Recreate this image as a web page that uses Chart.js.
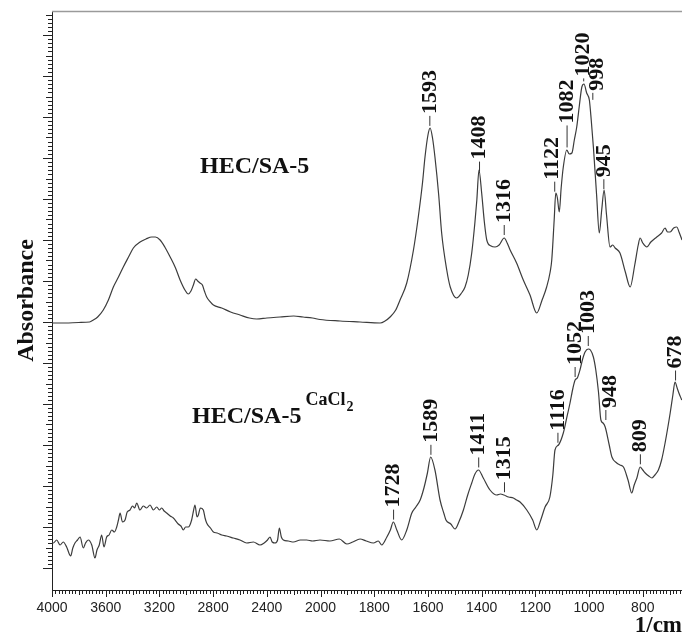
<!DOCTYPE html>
<html><head><meta charset="utf-8">
<script src="https://cdn.jsdelivr.net/npm/chart.js@4.4.1/dist/chart.umd.min.js"></script>
<style>html,body{margin:0;padding:0;background:#fff;}canvas{display:block;}</style>
</head><body>
<canvas id="c" width="682" height="635"></canvas>
<script>
// ---------------- data ----------------
const xTickLabels = [4000,3600,3200,2800,2400,2000,1800,1600,1400,1200,1000,800];

const wnHEC = [4000,3900,3800,3720,3692,3660,3618,3580,3543,3505,3469,3430,3394,3344,3300,3257,3230,3195,3160,3120,3080,3046,3010,2985,2965,2947,2930,2915,2898,2880,2865,2848,2820,2798,2736,2670,2600,2530,2475,2400,2302,2200,2130,2060,2004,1927,1853,1778,1760,1741,1720,1704,1679,1654,1636,1620,1611,1600,1592,1583,1574,1560,1549,1530,1517,1493,1475,1462,1450,1437,1425,1418,1410,1400,1390,1381,1365,1350,1335,1316,1305,1294,1270,1245,1220,1195,1175,1158,1145,1139,1130,1124,1118,1111,1104,1096,1083,1074,1064,1055,1046,1036,1027,1019,1009,999,992,984,972,962,953,944,935,922,912,903,885,865,847,830,817,810,800,785,770,748,730,717,708,698,685,673,665,654];
const absHEC = [2.67,2.67,2.675,2.68,2.70,2.73,2.80,2.90,3.03,3.13,3.23,3.33,3.42,3.48,3.51,3.53,3.53,3.50,3.43,3.33,3.22,3.10,3.00,2.96,2.99,3.05,3.11,3.09,3.07,3.05,2.99,2.93,2.88,2.85,2.82,2.78,2.75,2.72,2.71,2.72,2.73,2.74,2.73,2.72,2.705,2.69,2.68,2.67,2.69,2.73,2.80,2.90,3.07,3.40,3.73,4.08,4.33,4.55,4.62,4.52,4.33,3.95,3.57,3.20,3.03,2.92,2.97,3.03,3.15,3.37,3.68,3.90,4.20,3.97,3.68,3.50,3.44,3.43,3.45,3.52,3.47,3.40,3.27,3.10,2.95,2.77,2.90,3.03,3.18,3.30,3.70,3.97,3.92,3.78,4.02,4.23,4.40,4.36,4.37,4.50,4.63,4.85,5.03,5.06,4.97,4.90,4.70,4.43,3.95,3.57,3.80,4.00,3.75,3.43,3.45,3.42,3.37,3.18,3.03,3.25,3.45,3.52,3.47,3.43,3.48,3.53,3.57,3.62,3.58,3.58,3.62,3.63,3.58,3.50];

const wnCaCl2 = [4000,3990,3965,3940,3916,3891,3861,3845,3829,3810,3791,3767,3750,3730,3704,3680,3665,3648,3630,3613,3593,3575,3555,3535,3518,3505,3493,3475,3456,3440,3419,3400,3385,3369,3345,3320,3295,3270,3245,3220,3200,3183,3165,3146,3120,3096,3060,3040,3022,3005,2985,2960,2948,2935,2920,2910,2895,2873,2860,2848,2820,2798,2770,2736,2700,2650,2600,2550,2500,2451,2420,2395,2376,2360,2339,2320,2307,2292,2277,2240,2202,2150,2103,2060,2004,1965,1930,1902,1880,1853,1830,1803,1785,1772,1753,1740,1729,1716,1698,1679,1660,1645,1629,1615,1602,1590,1574,1555,1540,1533,1515,1499,1485,1468,1452,1437,1425,1412,1394,1369,1344,1330,1317,1300,1282,1270,1257,1232,1210,1195,1180,1164,1146,1135,1127,1114,1096,1085,1071,1060,1052,1044,1034,1025,1015,1003,995,984,975,965,956,948,940,925,915,897,885,872,855,841,832,822,810,800,791,778,766,755,742,730,717,698,688,680,672,667,655];
const absCaCl2 = [0.47,0.47,0.50,0.45,0.48,0.43,0.34,0.42,0.47,0.50,0.53,0.42,0.47,0.50,0.45,0.32,0.40,0.45,0.55,0.43,0.53,0.55,0.60,0.58,0.63,0.70,0.77,0.68,0.70,0.78,0.80,0.84,0.82,0.87,0.80,0.84,0.82,0.85,0.80,0.83,0.80,0.82,0.79,0.77,0.74,0.72,0.66,0.64,0.60,0.63,0.63,0.70,0.78,0.85,0.73,0.75,0.82,0.80,0.72,0.67,0.62,0.58,0.57,0.55,0.54,0.52,0.50,0.47,0.48,0.45,0.47,0.50,0.53,0.48,0.47,0.50,0.62,0.53,0.50,0.49,0.48,0.50,0.50,0.49,0.50,0.49,0.51,0.46,0.48,0.51,0.49,0.47,0.49,0.45,0.53,0.60,0.68,0.60,0.50,0.60,0.77,0.83,0.90,1.02,1.17,1.33,1.20,0.90,0.76,0.70,0.66,0.61,0.68,0.80,0.95,1.07,1.16,1.20,1.12,1.00,0.95,0.96,0.95,0.93,0.92,0.90,0.88,0.80,0.70,0.60,0.70,0.83,0.93,1.15,1.40,1.45,1.57,1.70,1.87,2.02,2.10,2.12,2.20,2.30,2.38,2.41,2.40,2.33,2.20,1.98,1.70,1.67,1.63,1.45,1.33,1.27,1.25,1.23,1.10,0.97,1.05,1.12,1.23,1.20,1.17,1.14,1.12,1.15,1.20,1.30,1.47,1.77,1.95,2.08,2.02,1.98,1.90];

const peaksHEC = [1593,1408,1316,1122,1082,1020,998,945];
const peaksCaCl2 = [1728,1589,1411,1315,1116,1052,1003,948,809,678];
const sampleNames = ['HEC/SA-5','HEC/SA-5'];
const sampleSuffix = ['', 'CaCl'];
const sampleSubscript = ['', '2'];

// ---------------- layout / style ----------------
const X_MIN = 654, X_MAX = 4000, Y_MIN = 0, Y_MAX = 5.79;
const labelAnchor = [{wn: 2898, v: 4.17}, {wn: 2957, v: 1.67}];
const peakTweak = {top: {1082: {gap: 25}, 1020: {gap: 6}, 998: {dx: 8, gap: 10}, 1122: {dx: -4}},
                   bottom: {948: {dx: 7}}};
const LINE = '#3c3c3c';
const SERIF = '"Liberation Serif","Times New Roman",serif';

// ---------------- FTIR axis: 4000-2000 compressed 2:1 ----------------
const WN_HI = 4000, WN_BREAK = 2000;
class FtirScale extends Chart.LinearScale {
  _u(v) { return v >= WN_BREAK ? (WN_HI - v) / 400 : (WN_HI - WN_BREAK) / 400 + (WN_BREAK - v) / 200; }
  buildTicks() { return xTickLabels.filter(v => v >= this.min && v <= this.max).map(v => ({value: v})); }
  getPixelForValue(v) { return this.getPixelForDecimal(this._u(v) / this._u(this.min)); }
  getValueForPixel(p) {
    const u = this.getDecimalForPixel(p) * this._u(this.min);
    return u <= 5 ? WN_HI - u * 400 : WN_BREAK - (u - 5) * 200;
  }
}
FtirScale.id = 'ftir';
Chart.register(FtirScale);

function interp(wns, vals, w) {
  for (let i = 0; i < wns.length - 1; i++) {
    if (wns[i] >= w && wns[i + 1] <= w) {
      const t = (wns[i] - w) / (wns[i] - wns[i + 1]);
      return vals[i] + t * (vals[i + 1] - vals[i]);
    }
  }
  return vals[vals.length - 1];
}

const decor = {
  id: 'decor',
  afterDraw(chart) {
    const {ctx, chartArea: a, scales: {x, y}} = chart;
    ctx.save();
    // top frame
    ctx.strokeStyle = '#9a9a9a'; ctx.lineWidth = 1.5;
    ctx.beginPath(); ctx.moveTo(a.left, a.top + 0.5); ctx.lineTo(a.right, a.top + 0.5); ctx.stroke();
    // x ticks (major + 16 minors per interval)
    ctx.strokeStyle = '#222'; ctx.lineWidth = 1;
    ctx.beginPath();
    for (let i = 0; i < xTickLabels.length; i++) {
      const w0 = xTickLabels[i];
      const step = (w0 > WN_BREAK ? 400 : 200) / 16;
      for (let k = 0; k < 16; k++) {
        const w = w0 - k * step;
        if (w < X_MIN) break;
        const px = Math.round(x.getPixelForValue(w)) + 0.5;
        const len = k === 0 ? 7 : (k === 8 ? 5 : 4);
        ctx.moveTo(px, a.bottom); ctx.lineTo(px, a.bottom + len);
      }
    }
    // y ticks
    for (let j = 0; ; j++) {
      const v = 0.22 + j * 0.041;
      if (v > Y_MAX) break;
      const py = Math.round(y.getPixelForValue(v)) + 0.5;
      const len = j % 10 === 0 ? 9 : (j % 5 === 0 ? 6 : 4);
      ctx.moveTo(a.left, py); ctx.lineTo(a.left - len, py);
    }
    ctx.stroke();

    // peak labels
    ctx.fillStyle = '#111'; ctx.strokeStyle = '#333'; ctx.lineWidth = 1;
    ctx.font = 'bold 22px ' + SERIF;
    const drawPeaks = (peaks, wns, vals, tw) => {
      peaks.forEach(p => {
        const t = tw[p] || {};
        const gap = t.gap !== undefined ? t.gap : 13;
        const dx = t.dx || 0;
        const px = x.getPixelForValue(p);
        const py = y.getPixelForValue(interp(wns, vals, p));
        ctx.beginPath();
        ctx.moveTo(px + dx * 0.4, py - 3); ctx.lineTo(px + dx * 0.4, py - gap);
        ctx.stroke();
        ctx.save();
        ctx.translate(px + dx, py - gap - 2);
        ctx.rotate(-Math.PI / 2);
        ctx.textAlign = 'left'; ctx.textBaseline = 'middle';
        ctx.fillText(String(p), 0, 0);
        ctx.restore();
      });
    };
    drawPeaks(peaksHEC, wnHEC, absHEC, peakTweak.top);
    drawPeaks(peaksCaCl2, wnCaCl2, absCaCl2, peakTweak.bottom);

    // sample names
    sampleNames.forEach((n, i) => {
      const lx = x.getPixelForValue(labelAnchor[i].wn);
      const ly = y.getPixelForValue(labelAnchor[i].v);
      ctx.font = 'bold 24px ' + SERIF;
      ctx.textAlign = 'left'; ctx.textBaseline = 'alphabetic';
      ctx.fillText(n, lx, ly);
      if (sampleSuffix[i]) {
        const w = ctx.measureText(n).width;
        ctx.font = 'bold 18px ' + SERIF;
        ctx.fillText(sampleSuffix[i], lx + w + 4, ly - 18);
        const w2 = ctx.measureText(sampleSuffix[i]).width;
        ctx.font = 'bold 14px ' + SERIF;
        ctx.fillText(sampleSubscript[i], lx + w + 5 + w2, ly - 12);
      }
    });
    ctx.restore();
  }
};

new Chart(document.getElementById('c'), {
  type: 'line',
  data: {
    datasets: [
      {label: sampleNames[0], data: wnHEC.map((w, i) => ({x: w, y: absHEC[i]})),
       borderColor: LINE, borderWidth: 1.2, pointRadius: 0, fill: false, cubicInterpolationMode: 'monotone'},
      {label: sampleNames[1] + sampleSuffix[1] + sampleSubscript[1], data: wnCaCl2.map((w, i) => ({x: w, y: absCaCl2[i]})),
       borderColor: LINE, borderWidth: 1.2, pointRadius: 0, fill: false, cubicInterpolationMode: 'monotone'}
    ]
  },
  options: {
    responsive: false, animation: false, events: [], devicePixelRatio: 1,
    layout: {padding: {top: 11, right: 0, left: 0, bottom: 0}},
    plugins: {legend: {display: false}, tooltip: {enabled: false}},
    scales: {
      x: {
        type: 'ftir', min: X_MIN, max: X_MAX,
        afterFit: s => { s.height = 45; },
        grid: {display: false, drawTicks: false},
        border: {display: true, color: '#222', width: 1},
        ticks: {autoSkip: false, maxRotation: 0, padding: 10, color: '#222',
                font: {family: '"Liberation Sans",Arial,sans-serif', size: 14},
                callback: v => String(v)},
        title: {display: true, text: '1/cm', align: 'end', color: '#111',
                font: {family: SERIF, size: 23, weight: 'bold', lineHeight: 1},
                padding: {top: 0, bottom: -3}}
      },
      y: {
        type: 'linear', min: Y_MIN, max: Y_MAX,
        afterFit: s => { s.width = 52; },
        grid: {display: false, drawTicks: false},
        border: {display: true, color: '#222', width: 1},
        ticks: {display: false},
        title: {display: true, text: 'Absorbance', color: '#111',
                font: {family: SERIF, size: 24, weight: 'bold', lineHeight: 1},
                padding: {top: 15, bottom: 0}}
      }
    }
  },
  plugins: [decor]
});
</script>
</body></html>
